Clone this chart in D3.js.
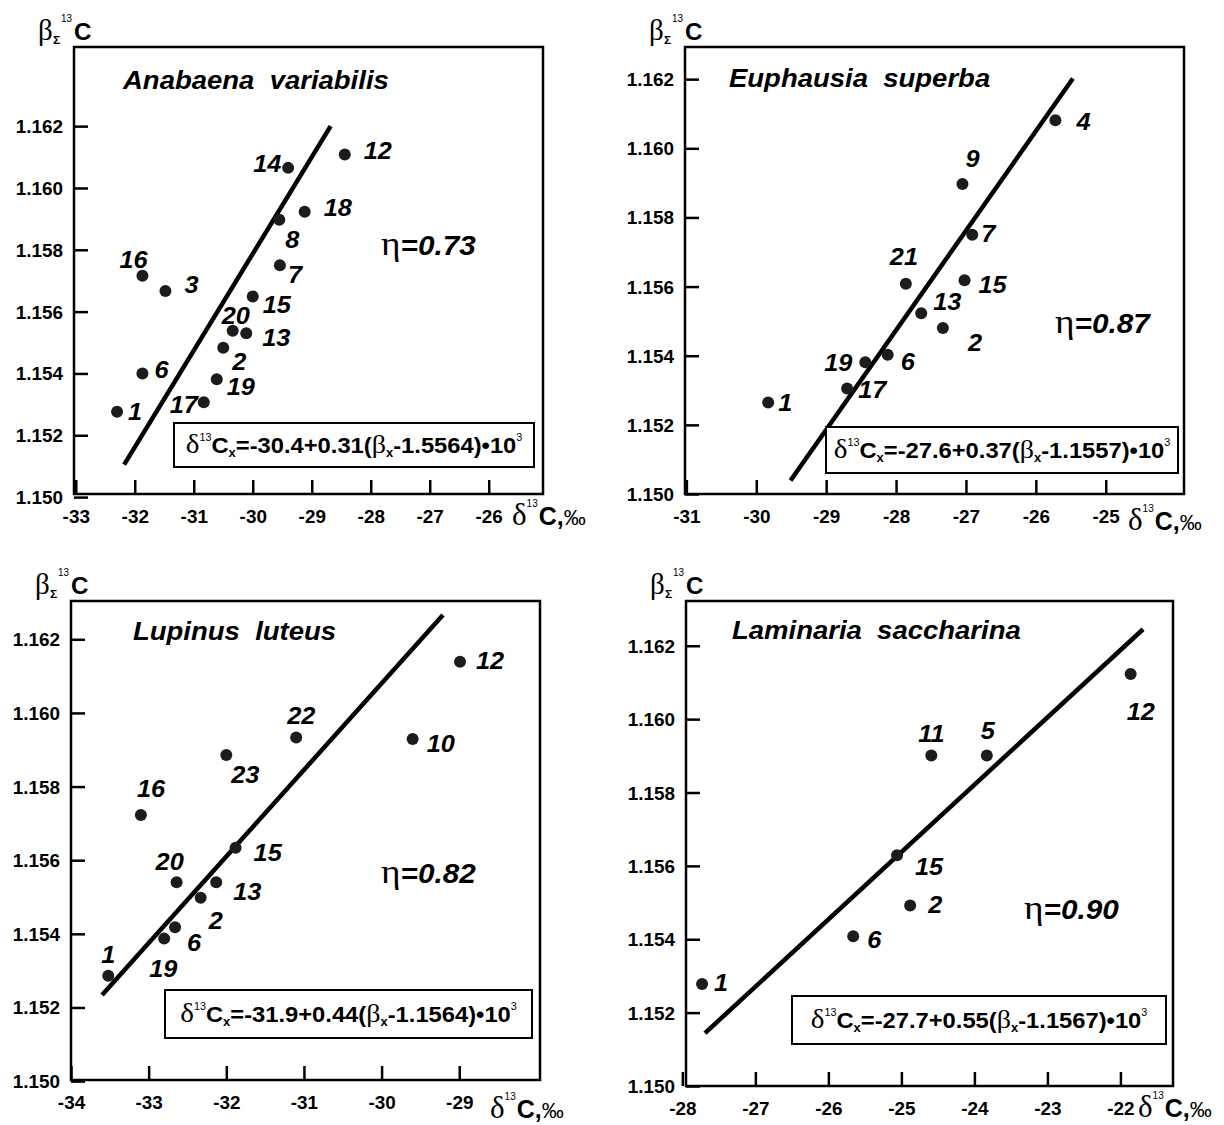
<!DOCTYPE html>
<html>
<head>
<meta charset="utf-8">
<script src="https://cdn.jsdelivr.net/npm/d3@7"></script>
<style>
  body { margin: 0; background: #fff; }
  svg text { font-family: "Liberation Sans", Arial, sans-serif; fill: #000; }
  svg .serif { font-family: "Liberation Serif", "Times New Roman", serif; font-weight: normal; }
</style>
</head>
<body>
<div id="chart"></div>
<script>

var width = 1224, height = 1125;
var stretch = 1.1;   // the lettering in the figure is a little wide

// shared beta ticks
var yTickValues = [1.150, 1.152, 1.154, 1.156, 1.158, 1.160, 1.162];

// Anabaena variabilis
var anabaenaIds  = ["1", "6", "17", "19", "2", "20", "13", "15", "3", "16", "7", "8", "18", "14", "12"];
var anabaenaD13C = [-32.30, -31.87, -30.83, -30.61, -30.50, -30.34, -30.11, -30.00, -31.48, -31.87, -29.54, -29.55, -29.12, -29.40, -28.44];
var anabaenaBeta = [1.15276, 1.15400, 1.15307, 1.15381, 1.15483, 1.15538, 1.15530, 1.15649, 1.15667, 1.15716, 1.15750, 1.15897, 1.15923, 1.16065, 1.16108];
var anabaenaXTicks = [-33, -32, -31, -30, -29, -28, -27, -26];
var anabaenaFitD13C = [-32.18, -28.68];
var anabaenaFitBeta = [1.15105, 1.16200];
var anabaenaEq = ["-30.4", "0.31", "1.5564"];

// Euphausia superba
var euphausiaIds  = ["1", "17", "19", "6", "2", "13", "21", "15", "7", "9", "4"];
var euphausiaD13C = [-29.83, -28.70, -28.44, -28.12, -27.33, -27.64, -27.86, -27.02, -26.91, -27.05, -25.72];
var euphausiaBeta = [1.15265, 1.15305, 1.15381, 1.15403, 1.15480, 1.15523, 1.15608, 1.15618, 1.15750, 1.15897, 1.16081];
var euphausiaXTicks = [-31, -30, -29, -28, -27, -26, -25];
var euphausiaFitD13C = [-29.51, -25.47];
var euphausiaFitBeta = [1.15039, 1.16202];
var euphausiaEq = ["-27.6", "0.37", "1.1557"];

// Lupinus luteus
var lupinusIds  = ["1", "19", "6", "2", "20", "13", "15", "16", "23", "22", "10", "12"];
var lupinusD13C = [-33.52, -32.80, -32.66, -32.33, -32.64, -32.13, -31.88, -33.10, -32.00, -31.10, -29.60, -28.99];
var lupinusBeta = [1.15286, 1.15387, 1.15418, 1.15498, 1.15540, 1.15540, 1.15634, 1.15723, 1.15886, 1.15933, 1.15929, 1.16139];
var lupinusXTicks = [-34, -33, -32, -31, -30, -29];
var lupinusFitD13C = [-33.60, -29.21];
var lupinusFitBeta = [1.15234, 1.16266];
var lupinusEq = ["-31.9", "0.44", "1.1564"];

// Laminaria saccharina
var laminariaIds  = ["1", "6", "2", "15", "11", "5", "12"];
var laminariaD13C = [-27.73, -25.66, -24.88, -25.06, -24.59, -23.83, -21.86];
var laminariaBeta = [1.15278, 1.15408, 1.15492, 1.15629, 1.15901, 1.15901, 1.16123];
var laminariaXTicks = [-28, -27, -26, -25, -24, -23, -22];
var laminariaFitD13C = [-27.69, -21.69];
var laminariaFitBeta = [1.15144, 1.16245];
var laminariaEq = ["-27.7", "0.55", "1.1567"];

// where each panel sits, and where its point numbers go (text start / baseline from the dot)
var panels = [
  {
    name: "Anabaena  variabilis", eta: "0.73", eq: anabaenaEq,
    ids: anabaenaIds, xs: anabaenaD13C, ys: anabaenaBeta, xTicks: anabaenaXTicks,
    fitX: anabaenaFitD13C, fitY: anabaenaFitBeta,
    box: {left: 74, right: 543, top: 47, bottom: 494},
    xDomain: [-33.03, -25.08], yDomain: [1.1501, 1.16456],
    title: [123, 89], etaPos: [381, 255], eqBox: [174, 423, 534, 467], xTitle: [512, 525],
    labels: {"12": [19, 4], "14": [-35, 4], "18": [19, 4], "8": [6, 28], "7": [8, 18], "16": [-23, -8],
             "3": [19, 2], "15": [10, 17], "20": [-11, -7], "13": [16, 13], "2": [9, 22], "6": [12, 5],
             "19": [10, 16], "17": [-34, 11], "1": [11, 8]}
  },
  {
    name: "Euphausia  superba", eta: "0.87", eq: euphausiaEq,
    ids: euphausiaIds, xs: euphausiaD13C, ys: euphausiaBeta, xTicks: euphausiaXTicks,
    fitX: euphausiaFitD13C, fitY: euphausiaFitBeta,
    box: {left: 685, right: 1184, top: 47, bottom: 494},
    xDomain: [-31.02, -23.88], yDomain: [1.1500, 1.16293],
    title: [729, 87], etaPos: [1055, 333], eqBox: [826, 427, 1178, 473], xTitle: [1128, 530],
    labels: {"4": [21, 10], "9": [3, -17], "7": [9, 7], "21": [-16, -19], "15": [14, 13], "13": [12, -3],
             "2": [25, 23], "6": [13, 15], "19": [-41, 9], "17": [11, 9], "1": [10, 9]}
  },
  {
    name: "Lupinus  luteus", eta: "0.82", eq: lupinusEq,
    ids: lupinusIds, xs: lupinusD13C, ys: lupinusBeta, xTicks: lupinusXTicks,
    fitX: lupinusFitD13C, fitY: lupinusFitBeta,
    box: {left: 71, right: 540, top: 601, bottom: 1080},
    xDomain: [-34, -27.96], yDomain: [1.15003, 1.16304],
    title: [133, 640], etaPos: [381, 883], eqBox: [165, 990, 532, 1038], xTitle: [490, 1118],
    labels: {"12": [16, 7], "10": [14, 13], "22": [-9, -14], "23": [5, 28], "16": [-4, -18], "15": [18, 13],
             "20": [-21, -12], "13": [17, 18], "2": [8, 31], "6": [12, 24], "19": [-15, 38], "1": [-7, -13]}
  },
  {
    name: "Laminaria  saccharina", eta: "0.90", eq: laminariaEq,
    ids: laminariaIds, xs: laminariaD13C, ys: laminariaBeta, xTicks: laminariaXTicks,
    fitX: laminariaFitD13C, fitY: laminariaFitBeta,
    box: {left: 686, right: 1173, top: 601, bottom: 1086},
    xDomain: [-27.95, -21.28], yDomain: [1.1500, 1.16322],
    title: [732, 639], etaPos: [1024, 919], eqBox: [792, 996, 1166, 1044], xTitle: [1138, 1117],
    labels: {"12": [-4, 46], "11": [-13, -13], "5": [-6, -16], "15": [18, 20], "2": [18, 7], "6": [14, 12],
             "1": [12, 7]}
  }
];

var svg = d3.select("#chart").append("svg")
  .attr("width", width)
  .attr("height", height)
  .attr("viewBox", "0 0 " + width + " " + height);

svg.append("rect").attr("width", width).attr("height", height).attr("fill", "#fff");

function place(x, y, k) {
  return "translate(" + x + "," + y + ") scale(" + (k || stretch) + ",1)";
}

// plain hyphen for negatives, as in the figure
function hyphen(d) { return String(d); }

function drawPanel(p) {
  var b = p.box;
  var g = svg.append("g");

  var x = d3.scaleLinear().domain(p.xDomain).range([b.left, b.right]);
  var y = d3.scaleLinear().domain(p.yDomain).range([b.bottom, b.top]);

  // y axis, ticks pointing into the frame
  var ya = g.append("g")
    .attr("transform", "translate(" + b.left + ",0)")
    .call(d3.axisLeft(y).tickValues(yTickValues).tickFormat(d3.format(".3f"))
      .tickSizeInner(-14).tickSizeOuter(0).tickPadding(11));
  ya.select(".domain").remove();
  ya.selectAll(".tick line").attr("stroke", "#000").attr("stroke-width", 2.5);
  ya.selectAll(".tick text")
    .attr("x", null).attr("dy", null)
    .attr("transform", place(-11, 6.5, 1.05))
    .style("font-size", "18px").style("font-weight", "bold");

  // x axis
  var xa = g.append("g")
    .attr("transform", "translate(0," + b.bottom + ")")
    .call(d3.axisBottom(x).tickValues(p.xTicks).tickFormat(hyphen)
      .tickSizeInner(-14).tickSizeOuter(0).tickPadding(17));
  xa.select(".domain").remove();
  xa.selectAll(".tick line").attr("stroke", "#000").attr("stroke-width", 2.5);
  xa.selectAll(".tick text")
    .attr("y", null).attr("dy", null)
    .attr("transform", place(0, 29, 1.05))
    .style("font-size", "18px").style("font-weight", "bold");

  // frame
  g.append("rect")
    .attr("x", b.left).attr("y", b.top)
    .attr("width", b.right - b.left).attr("height", b.bottom - b.top)
    .attr("fill", "none").attr("stroke", "#000").attr("stroke-width", 2.5);

  // y axis title  beta_Sigma ^13 C
  g.append("text").attr("class", "serif").attr("transform", place(b.left - 36, b.top - 7, 1))
    .style("font-size", "29px").text("β");
  g.append("text").attr("transform", place(b.left - 21, b.top - 3))
    .style("font-size", "11px").style("font-weight", "bold").text("Σ");
  g.append("text").attr("transform", place(b.left - 13, b.top - 25, 0.9))
    .style("font-size", "11px").text("13");
  g.append("text").attr("transform", place(b.left, b.top - 7, 1.05))
    .style("font-size", "23px").style("font-weight", "bold").text("C");

  // x axis title  delta ^13 C, permil
  var xt = g.append("text").attr("transform", place(p.xTitle[0], p.xTitle[1], 1));
  xt.append("tspan").attr("class", "serif").style("font-size", "31px").text("δ");
  xt.append("tspan").style("font-size", "10px").attr("dy", -18).text("13");
  xt.append("tspan").style("font-size", "25px").style("font-weight", "bold").attr("dy", 18).attr("dx", 1).text("C,");
  xt.append("tspan").style("font-size", "22px").text("‰");

  // species name
  g.append("text").attr("transform", place(p.title[0], p.title[1]))
    .style("font-size", "25px").style("font-weight", "bold").style("font-style", "italic")
    .style("white-space", "pre").attr("xml:space", "preserve")
    .text(p.name);

  // regression line
  var fit = p.fitX.map(function(d, i) { return [d, p.fitY[i]]; });
  g.append("path")
    .datum(fit)
    .attr("d", d3.line().x(function(d) { return x(d[0]); }).y(function(d) { return y(d[1]); }))
    .attr("stroke", "#000").attr("stroke-width", 4.5).attr("fill", "none");

  // samples
  var pts = p.ids.map(function(id, i) { return {id: id, x: p.xs[i], y: p.ys[i]}; });

  g.selectAll("circle.pt").data(pts).enter().append("circle")
    .attr("class", "pt")
    .attr("cx", function(d) { return x(d.x); })
    .attr("cy", function(d) { return y(d.y); })
    .attr("r", 6)
    .attr("fill", "#1c1c1c");

  g.selectAll("text.num").data(pts).enter().append("text")
    .attr("class", "num")
    .attr("transform", function(d) {
      var o = p.labels[d.id];
      return place(x(d.x) + o[0], y(d.y) + o[1]);
    })
    .style("font-size", "23px").style("font-weight", "bold").style("font-style", "italic")
    .text(function(d) { return d.id; });

  // correlation ratio
  var et = g.append("text").attr("transform", place(p.etaPos[0], p.etaPos[1]));
  et.append("tspan").attr("class", "serif").style("font-size", "34px").text("η");
  et.append("tspan").style("font-size", "27px").style("font-weight", "bold").style("font-style", "italic")
    .text("=" + p.eta);

  // equation box
  var eb = p.eqBox;
  g.append("rect")
    .attr("x", eb[0]).attr("y", eb[1]).attr("width", eb[2] - eb[0]).attr("height", eb[3] - eb[1])
    .attr("fill", "#fff").attr("stroke", "#000").attr("stroke-width", 2);

  var eq = g.append("text")
    .attr("transform", place((eb[0] + eb[2]) / 2, (eb[1] + eb[3]) / 2 + 8, 1.08))
    .attr("text-anchor", "middle")
    .style("font-size", "22px").style("font-weight", "bold");
  eq.append("tspan").attr("class", "serif").style("font-size", "27px").text("δ");
  eq.append("tspan").style("font-size", "10px").style("font-weight", "normal").attr("dy", -12).text("13");
  eq.append("tspan").attr("dy", 12).text("C");
  eq.append("tspan").style("font-size", "12px").attr("dy", 4).text("x");
  eq.append("tspan").attr("dy", -4).text("=" + p.eq[0] + "+" + p.eq[1] + "(");
  eq.append("tspan").attr("class", "serif").style("font-size", "26px").text("β");
  eq.append("tspan").style("font-size", "12px").attr("dy", 4).text("x");
  eq.append("tspan").attr("dy", -4).text("-" + p.eq[2] + ")•10");
  eq.append("tspan").style("font-size", "10px").style("font-weight", "normal").attr("dy", -12).text("3");
}

panels.forEach(drawPanel);

</script>
</body>
</html>
